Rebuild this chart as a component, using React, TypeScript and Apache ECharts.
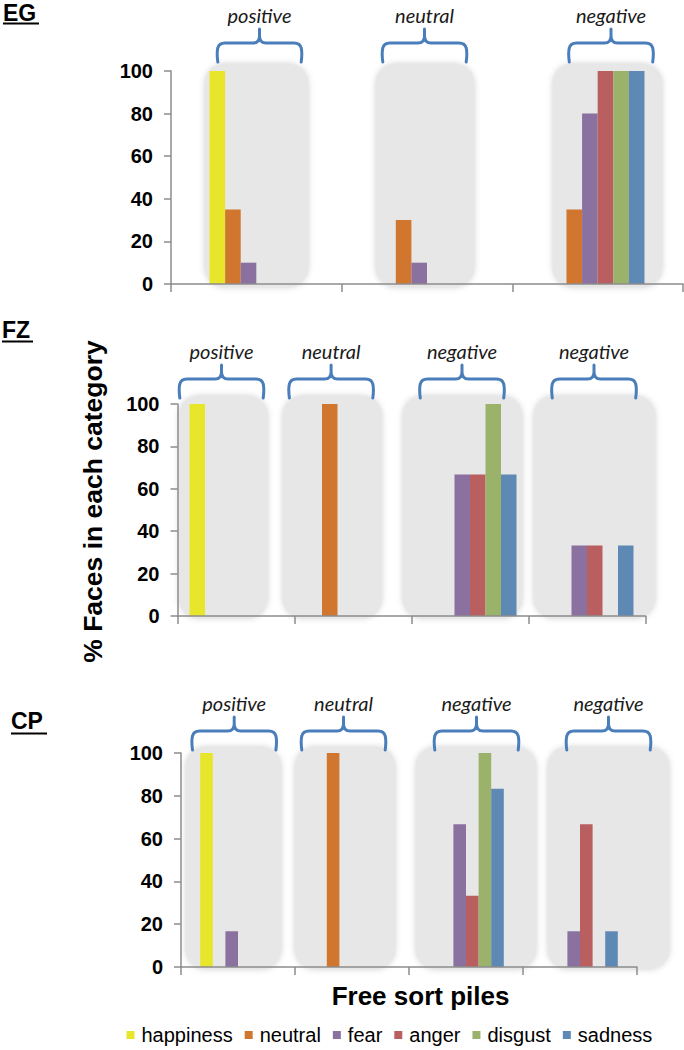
import React, { useEffect, useRef } from "react";
import * as echarts from "echarts";

// ---------- data ----------
const EMOTIONS = ["happiness", "neutral", "fear", "anger", "disgust", "sadness"];
const EMOTION_COLORS = ["#E8E62A", "#D1762E", "#8B71A0", "#BA5F5F", "#9BB26A", "#5F89B5"];

const EG_PILES = ["positive", "neutral", "negative"];
// rows = piles, columns = emotions (happiness, neutral, fear, anger, disgust, sadness)
const EG_VALUES = [
  [100, 35, 10, 0, 0, 0],
  [0, 30, 10, 0, 0, 0],
  [0, 35, 80, 100, 100, 100],
];

const FZ_PILES = ["positive", "neutral", "negative", "negative"];
const FZ_VALUES = [
  [100, 0, 0, 0, 0, 0],
  [0, 100, 0, 0, 0, 0],
  [0, 0, 66.7, 66.7, 100, 66.7],
  [0, 0, 33.3, 33.3, 0, 33.3],
];

const CP_PILES = ["positive", "neutral", "negative", "negative"];
const CP_VALUES = [
  [100, 0, 16.7, 0, 0, 0],
  [0, 100, 0, 0, 0, 0],
  [0, 0, 66.7, 33.3, 100, 83.3],
  [0, 0, 16.7, 66.7, 0, 16.7],
];

const Y_MIN = 0;
const Y_MAX = 100;
const Y_STEP = 20;

const Y_TITLE = "% Faces in each category";
const X_TITLE = "Free sort piles";

// ---------- layout (decoration) ----------
const PANELS = [
  {
    title: "EG", piles: EG_PILES, values: EG_VALUES,
    grid: { left: 171, top: 71, width: 512, height: 213 }, barWidth: 15.6,
    titleX: 3, titleY: 13, titleW: 36, underlineY: 23.5,
    boxes: [[205, 308], [376, 474], [553, 662]], boxTop: 64, boxBottom: 287,
    braces: [217, 382, 568.5], braceTop: 29,
  },
  {
    title: "FZ", piles: FZ_PILES, values: FZ_VALUES,
    grid: { left: 177.5, top: 404, width: 468, height: 212 }, barWidth: 15.5,
    titleX: 2, titleY: 330, titleW: 31, underlineY: 341.5,
    boxes: [[179, 267.5], [283, 381.6], [403, 522], [534, 655]], boxTop: 396, boxBottom: 618,
    braces: [179, 288.6, 419.5, 551.5], braceTop: 365,
  },
  {
    title: "CP", piles: CP_PILES, values: CP_VALUES,
    grid: { left: 181, top: 753, width: 456, height: 214 }, barWidth: 12.6,
    titleX: 11, titleY: 721, titleW: 36, underlineY: 733.5,
    boxes: [[186, 281], [295, 395], [416, 536], [548, 669]], boxTop: 747, boxBottom: 969,
    braces: [191.7, 301, 434, 566], braceTop: 717,
  },
];

const BRACE_W = 85;
const BRACE_D =
  "M0.8,33 C0,27 0,22 0.8,19 Q2,14 8,14 L36,14 Q42.5,14 42.5,7 L42.5,0 " +
  "M42.5,7 Q42.5,14 49,14 L77,14 Q83,14 84.2,19 C85,22 85,27 84.2,33";

echarts.graphic.registerShape("brace", echarts.graphic.extendPath(BRACE_D, {}));

const SANS = "'Liberation Sans', Arial, sans-serif";
const AXIS_COLOR = "#8c8c8c";

function buildOption() {
  const grids: any[] = [];
  const xAxes: any[] = [];
  const yAxes: any[] = [];
  const series: any[] = [];
  const graphics: any[] = [];

  PANELS.forEach((p, i) => {
    grids.push({ ...p.grid, containLabel: false });
    xAxes.push({
      gridIndex: i,
      type: "category",
      data: p.piles.map((_, j) => String(j + 1)),
      z: 4,
      axisLine: { show: true, lineStyle: { color: AXIS_COLOR, width: 1.5 } },
      axisTick: { show: true, length: 8, lineStyle: { color: AXIS_COLOR, width: 1.5 } },
      axisLabel: { show: false },
      splitLine: { show: false },
    });
    yAxes.push({
      gridIndex: i,
      type: "value",
      min: Y_MIN,
      max: Y_MAX,
      interval: Y_STEP,
      z: 4,
      axisLine: { show: true, lineStyle: { color: AXIS_COLOR, width: 1.5 } },
      axisTick: { show: true, length: 7, lineStyle: { color: AXIS_COLOR, width: 1.5 } },
      splitLine: { show: false },
      axisLabel: {
        fontFamily: SANS,
        fontWeight: "bold",
        fontSize: 20,
        color: "#000",
        margin: 18,
      },
    });
    EMOTIONS.forEach((name, e) => {
      series.push({
        type: "bar",
        name,
        xAxisIndex: i,
        yAxisIndex: i,
        data: p.values.map((row) => row[e]),
        barWidth: p.barWidth,
        barGap: "0%",
        z: 3,
        itemStyle: { color: EMOTION_COLORS[e] },
      });
    });

    // gray rounded pile boxes
    p.boxes.forEach(([x0, x1]) => {
      graphics.push({
        type: "rect",
        z: 0,
        shape: { x: x0, y: p.boxTop, width: x1 - x0, height: p.boxBottom - p.boxTop, r: 20 },
        style: { fill: "#E7E7E7", shadowBlur: 6, shadowColor: "rgba(200,200,200,0.9)" },
      });
    });
    // braces + pile labels
    p.braces.forEach((bx, j) => {
      graphics.push({
        type: "brace",
        z: 6,
        x: bx,
        y: p.braceTop,
        style: { stroke: "#4A7EBB", lineWidth: 3, fill: null, lineCap: "round", lineJoin: "round" },
      });
      graphics.push({
        type: "text",
        z: 6,
        x: bx + BRACE_W / 2,
        y: p.braceTop - 14,
        style: {
          text: p.piles[j],
          font: "italic 20px Lato, 'Open Sans', sans-serif",
          fill: "#1a1a1a",
          textAlign: "center",
          textVerticalAlign: "middle",
          align: "center",
          verticalAlign: "middle",
        },
      });
    });
    // panel title with underline
    graphics.push({
      type: "text",
      z: 6,
      x: p.titleX,
      y: p.titleY,
      style: {
        text: p.title,
        font: `bold 23px ${SANS}`,
        fill: "#000",
        textAlign: "left",
        textVerticalAlign: "middle",
        align: "left",
        verticalAlign: "middle",
      },
    });
    graphics.push({
      type: "line",
      z: 6,
      shape: { x1: p.titleX, y1: p.underlineY, x2: p.titleX + p.titleW, y2: p.underlineY },
      style: { stroke: "#000", lineWidth: 2 },
    });
  });

  graphics.push({
    type: "text",
    z: 6,
    x: 93,
    y: 501.5,
    rotation: Math.PI / 2,
    style: {
      text: Y_TITLE,
      font: `bold 26.5px ${SANS}`,
      fill: "#000",
      textAlign: "center",
      textVerticalAlign: "middle",
      align: "center",
      verticalAlign: "middle",
    },
  });
  graphics.push({
    type: "text",
    z: 6,
    x: 420.5,
    y: 996,
    style: {
      text: X_TITLE,
      font: `bold 26px ${SANS}`,
      fill: "#000",
      textAlign: "center",
      textVerticalAlign: "middle",
      align: "center",
      verticalAlign: "middle",
    },
  });

  return {
    animation: false,
    backgroundColor: "#ffffff",
    grid: grids,
    xAxis: xAxes,
    yAxis: yAxes,
    series,
    legend: {
      data: EMOTIONS,
      left: 126.5,
      top: 1025,
      padding: 0,
      icon: "rect",
      itemWidth: 8,
      itemHeight: 8,
      itemGap: 12,
      selectedMode: false,
      textStyle: { fontFamily: SANS, fontSize: 20, color: "#000", padding: [0, 0, 0, 2] },
    },
    graphic: { elements: graphics },
  };
}

export default function App() {
  const ref = useRef<HTMLDivElement>(null);
  useEffect(() => {
    if (!ref.current) return;
    const chart = echarts.init(ref.current, undefined, { renderer: "svg" });
    chart.setOption(buildOption() as any);
    return () => chart.dispose();
  }, []);
  return (
    <div
      ref={ref}
      style={{ position: "absolute", left: 0, top: 0, width: 684, height: 1050 }}
    />
  );
}
